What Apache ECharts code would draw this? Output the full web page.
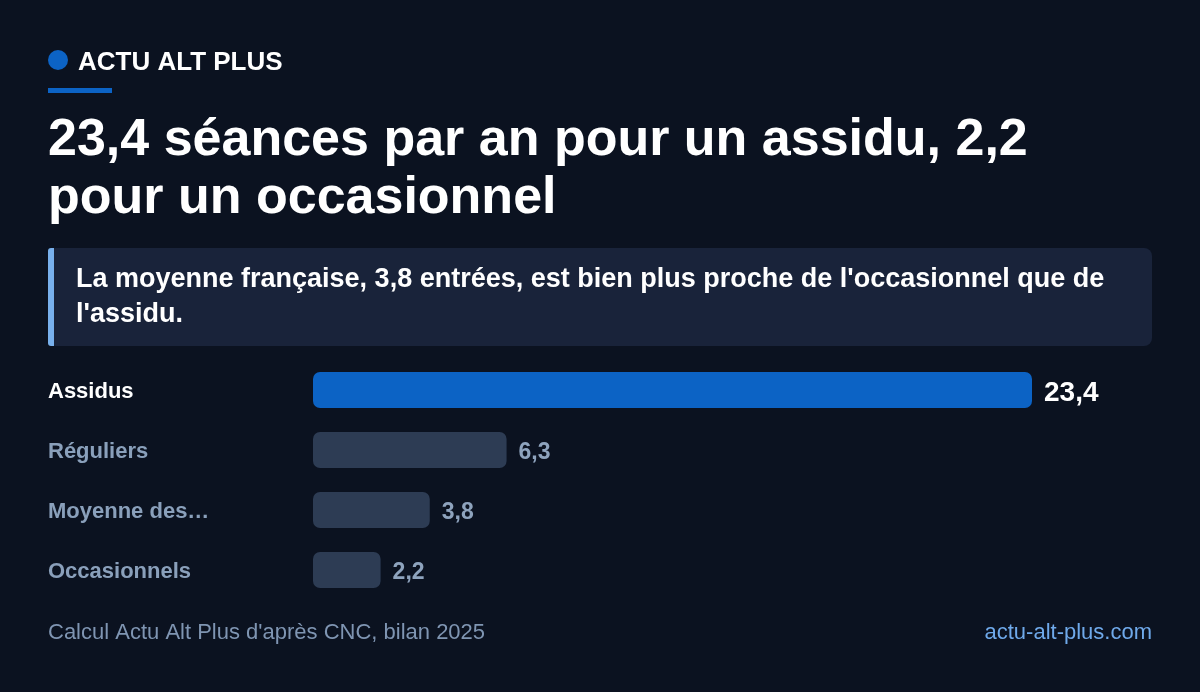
<!DOCTYPE html>
<html><head><meta charset="utf-8">
<script src="https://cdn.jsdelivr.net/npm/echarts@6/dist/echarts.min.js"></script>
<style>html,body{margin:0;padding:0;background:#0b1220;}#c{width:1200px;height:692px;}</style>
</head><body><div id="c"></div>
<script>
const brand = "ACTU ALT PLUS";
const titleLines = ["23,4 séances par an pour un assidu, 2,2", "pour un occasionnel"];
const subtitleLines = ["La moyenne française, 3,8 entrées, est bien plus proche de l'occasionnel que de", "l'assidu."];
const categories = ["Assidus", "Réguliers", "Moyenne des…", "Occasionnels"];
const values = [23.4, 6.3, 3.8, 2.2];
const valueLabels = ["23,4", "6,3", "3,8", "2,2"];
const source = "Calcul Actu Alt Plus d'après CNC, bilan 2025";
const site = "actu-alt-plus.com";

const FONT = 'Liberation Sans';
const chart = echarts.init(document.getElementById('c'), null, {renderer: 'canvas'});
const highlight = 0;

function txt(x, y, text, size, weight, color, extra) {
  return Object.assign({type: 'text', x: x, y: y, style: Object.assign({
    text: text, fill: color, fontFamily: FONT, fontSize: size, fontWeight: weight
  }, extra || {})});
}

chart.setOption({
  backgroundColor: '#0b1220',
  animation: false,
  grid: {left: 313, top: 360, width: 719, height: 240, containLabel: false},
  xAxis: {type: 'value', min: 0, max: 23.4, show: false},
  yAxis: {
    type: 'category', data: categories, inverse: true,
    axisLine: {show: false}, axisTick: {show: false}, splitLine: {show: false},
    axisLabel: {
      align: 'left', margin: 265, fontFamily: FONT, fontSize: 22, fontWeight: 'bold',
      formatter: (v, i) => i === highlight ? '{h|' + v + '}' : '{n|' + v + '}',
      rich: {
        h: {color: '#ffffff', fontFamily: FONT, fontSize: 22, fontWeight: 'bold', padding: [4, 0, 0, 0]},
        n: {color: '#8aa0bb', fontFamily: FONT, fontSize: 22, fontWeight: 'bold', padding: [4, 0, 0, 0]}
      }
    }
  },
  series: [{
    type: 'bar', barWidth: 36,
    data: values.map((v, i) => ({
      value: v,
      itemStyle: {color: i === highlight ? '#0c63c5' : '#2d3c54', borderRadius: 7},
      label: {
        show: true, position: 'right', distance: 12,
        formatter: valueLabels[i], fontFamily: FONT, fontWeight: 'bold',
        fontSize: i === highlight ? 28 : 23,
        color: i === highlight ? '#ffffff' : '#8ea3bd',
        offset: [0, 3]
      }
    }))
  }],
  graphic: [
    {type: 'circle', shape: {cx: 58, cy: 60, r: 10}, style: {fill: '#0c63c5'}},
    txt(78, 50, brand, 26, 'bold', '#ffffff'),
    {type: 'rect', shape: {x: 48, y: 88, width: 64, height: 5}, style: {fill: '#0c63c5'}},
    txt(48, 112, titleLines.join('\n'), 52, 'bold', '#ffffff', {lineHeight: 58}),
    {type: 'rect', shape: {x: 48, y: 248, width: 1104, height: 98, r: 8}, style: {fill: '#19233a'}},
    {type: 'rect', shape: {x: 48, y: 248, width: 6, height: 98, r: [3, 0, 0, 3]}, style: {fill: '#78b0ec'}},
    txt(76, 262, subtitleLines.join('\n'), 27, 'bold', '#ffffff', {lineHeight: 35}),
    txt(48, 622, source, 22, 'normal', '#7f95b2'),
    txt(1152, 622, site, 22, 'normal', '#6fa9ea', {align: 'right'})
  ]
});
</script></body></html>
